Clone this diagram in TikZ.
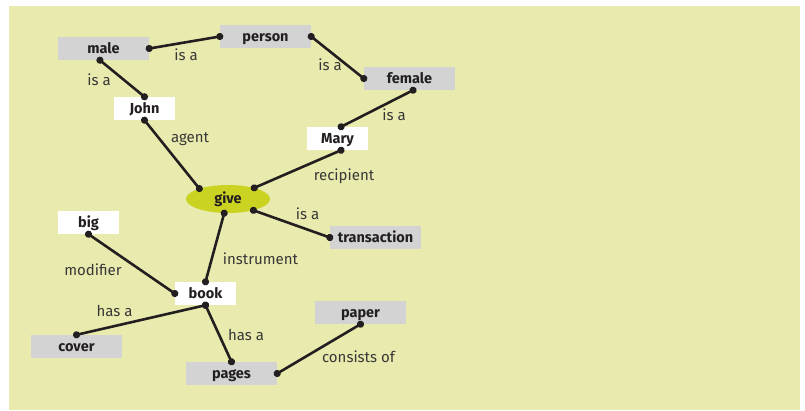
\documentclass[tikz,border=0pt]{standalone}
\usepackage{fontspec}
\setmainfont{Fira Sans}
\usetikzlibrary{shapes.geometric,arrows.meta}

\definecolor{bgcolor}{RGB}{233,235,174}
\definecolor{boxgray}{RGB}{211,211,211}
\definecolor{givecolor}{RGB}{203,211,34}
\definecolor{inkcolor}{RGB}{35,31,32}
\definecolor{labelcolor}{RGB}{55,55,55}

\tikzset{
    concept/.style={rectangle, fill=boxgray, minimum width=91pt, minimum height=23pt, inner sep=0pt,
        text=inkcolor, font=\fontsize{14.5}{17}\selectfont\bfseries, text height=11.5pt, text depth=2.5pt},
    instance/.style={concept, fill=white, minimum width=61pt},
    event/.style={concept, ellipse, fill=givecolor, minimum width=84pt, minimum height=28pt},
    relation/.style={anchor=base, text=labelcolor, font=\fontsize{15}{18}\selectfont},
    link/.style={{Circle[length=7pt]}-{Circle[length=7pt]}, draw=inkcolor, line width=2.6pt,
        shorten <=-3.5pt, shorten >=-3.5pt}
}

\begin{document}
\begin{tikzpicture}[x=1pt, y=-1pt]
        \useasboundingbox (0,0) rectangle (805,410);
        \fill[bgcolor] (9,6) rectangle (800,410);

        \node[concept] (male) at (103.5,48.5) {male};
        \node[concept] (person) at (265.5,36.5) {person};
        \node[concept] (female) at (409.5,78.5) {female};
        \node[instance] (John) at (144.5,108.5) {John};
        \node[instance] (Mary) at (337.5,138.5) {Mary};
        \node[event] (give) at (228,199) {give};
        \node[instance] (big) at (88.5,222.5) {big};
        \node[concept] (transaction) at (375.5,237.5) {transaction};
        \node[instance] (book) at (205.5,293.5) {book};
        \node[concept] (paper) at (360.5,312.5) {paper};
        \node[concept] (cover) at (76.5,346.5) {cover};
        \node[concept] (pages) at (231.5,373.5) {pages};

        \node[relation] (isa1) at (186,60) {is a};
        \node[relation] (isa2) at (330,70.5) {is a};
        \node[relation] (isa3) at (99,85.5) {is a};
        \node[relation] (isa4) at (394,120) {is a};
        \node[relation] (agent) at (190,142.5) {agent};
        \node[relation] (recipient) at (344,180.5) {recipient};
        \node[relation] (isa5) at (307.5,219) {is a};
        \node[relation] (instrument) at (260.5,264) {instrument};
        \node[relation] (modifier) at (93,275) {modifier};
        \node[relation] (hasa1) at (114.5,316.5) {has a};
        \node[relation] (hasa2) at (246,340) {has a};
        \node[relation] (consists) at (358.5,362) {consists of};

        \draw[link] (male.east) -- (person.west);
        \draw[link] (person.east) -- (female.west);
        \draw[link] (male.253) -- (John.north);
        \draw[link] (female.287) -- (Mary.73);
        \draw[link] (John.south) -- (give.160);
        \draw[link] (Mary.287) -- (give.23);
        \draw[link] (give.336) -- (transaction.west);
        \draw[link] (give.255) -- (book.north);
        \draw[link] (big.south) -- (book.west);
        \draw[link] (book.south) -- (cover.north);
        \draw[link] (book.south) -- (pages.north);
        \draw[link] (pages.east) -- (paper.south);
    \end{tikzpicture}
\end{document}
